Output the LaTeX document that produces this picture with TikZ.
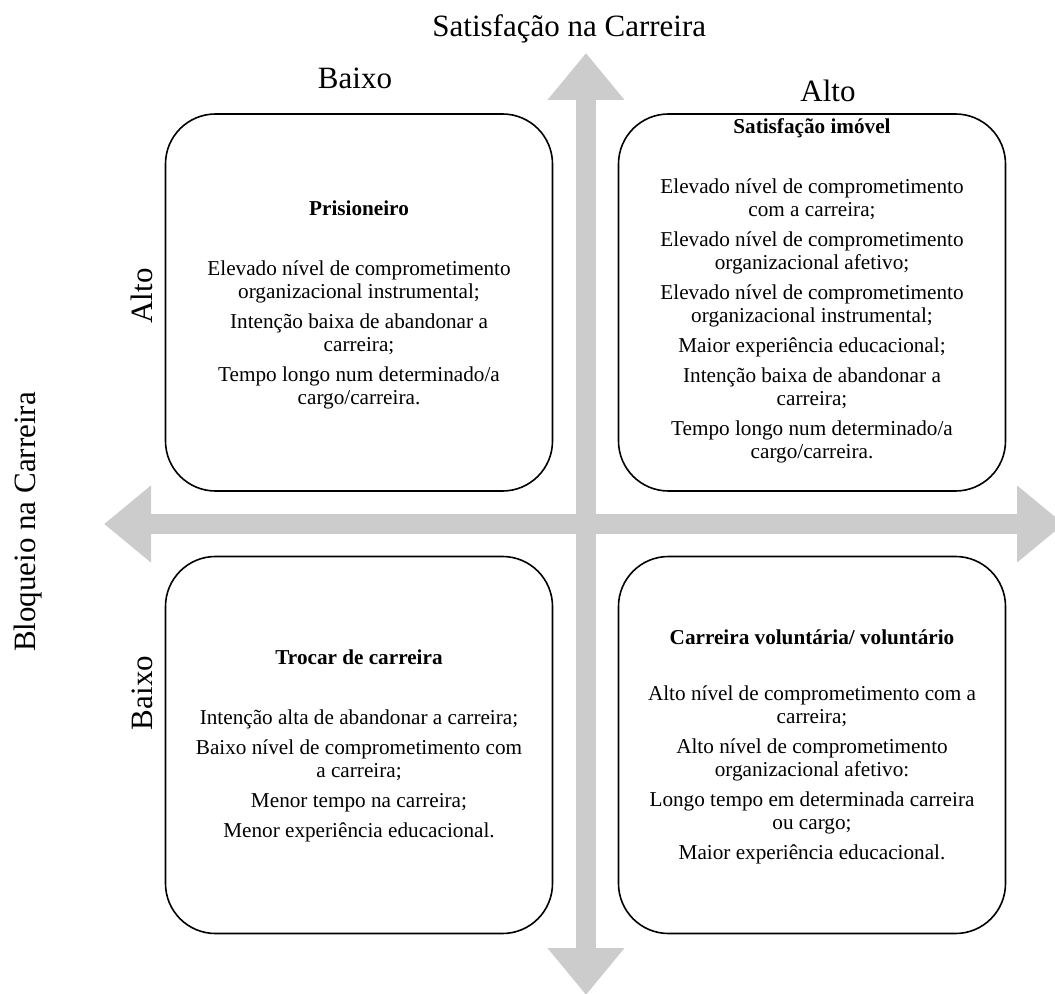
\documentclass[tikz,border=0pt]{standalone}
\usepackage{fontspec}
\setmainfont{Liberation Serif}
\usetikzlibrary{arrows.meta,positioning}

\tikzset{
  quad/.style = {rectangle,draw=black,line width=0.8pt,rounded corners=25pt,
                 minimum width=193.5pt,minimum height=188.5pt,inner sep=0pt,outer sep=0pt},
  quadtext/.style = {align=center,inner sep=0pt,font=\fontsize{10.6}{11.5}\selectfont},
  lab/.style = {inner sep=0pt,font=\fontsize{15.5}{18}\selectfont},
  axis/.style = {draw=black!20,line width=10pt,
                 {Triangle[width=37pt,length=23.5pt]}-{Triangle[width=37pt,length=23.5pt]}}
}

\begin{document}
\begin{tikzpicture}[x=0.5pt,y=-0.5pt]
\useasboundingbox (0,0) rectangle (1055,994);
\clip (0,0) rectangle (1055,994);

% eixos
\coordinate (west) at (104,524);
\coordinate (east) at (1064,524);
\coordinate (north) at (586,53);
\coordinate (south) at (586,995);
\draw[axis] (west) -- (east);
\draw[axis] (south) -- (north);

% quadrantes
\node[quad] (q1) at (359,302.5) {};
\node[quad] (q2) at (812,302.5) {};
\node[quad] (q3) at (359,745) {};
\node[quad] (q4) at (812,745) {};

\node[quadtext,yshift=-1.25pt] (t1) at (q1.center) {\textbf{Prisioneiro}\\[18.5pt]
  Elevado nível de comprometimento\\ organizacional instrumental;\\[3.5pt]
  Intenção baixa de abandonar a\\ carreira;\\[3.5pt]
  Tempo longo num determinado/a\\ cargo/carreira.};
\node[quadtext,yshift=5.75pt] (t2) at (q2.center) {\textbf{Satisfação imóvel}\\[18.5pt]
  Elevado nível de comprometimento\\ com a carreira;\\[3.5pt]
  Elevado nível de comprometimento\\ organizacional afetivo;\\[3.5pt]
  Elevado nível de comprometimento\\ organizacional instrumental;\\[3.5pt]
  Maior experiência educacional;\\[3.5pt]
  Intenção baixa de abandonar a\\ carreira;\\[3.5pt]
  Tempo longo num determinado/a\\ cargo/carreira.};
\node[quadtext,yshift=-0.5pt] (t3) at (q3.center) {\textbf{Trocar de carreira}\\[18.5pt]
  Intenção alta de abandonar a carreira;\\[3.5pt]
  Baixo nível de comprometimento com\\ a carreira;\\[3.5pt]
  Menor tempo na carreira;\\[3.5pt]
  Menor experiência educacional.};
\node[quadtext,yshift=-1pt] (t4) at (q4.center) {\textbf{Carreira voluntária/ voluntário}\\[16.5pt]
  Alto nível de comprometimento com a\\ carreira;\\[3.5pt]
  Alto nível de comprometimento\\ organizacional afetivo:\\[3.5pt]
  Longo tempo em determinada carreira\\ ou cargo;\\[3.5pt]
  Maior experiência educacional.};

% rotulos
\node[lab,anchor=base west] (ytitle) at (432,37) {Satisfação na Carreira};
\node[lab,anchor=base] (ylow) at (355,89) {Baixo};
\node[lab,anchor=base] (yhigh) at (828,102) {Alto};
\node[lab,anchor=base,rotate=90] (xtitle) at (35,522) {Bloqueio na Carreira};
\node[lab,anchor=base,rotate=90] (xhigh) at (152,296) {Alto};
\node[lab,anchor=base,rotate=90] (xlow) at (152,693) {Baixo};
\end{tikzpicture}
\end{document}
